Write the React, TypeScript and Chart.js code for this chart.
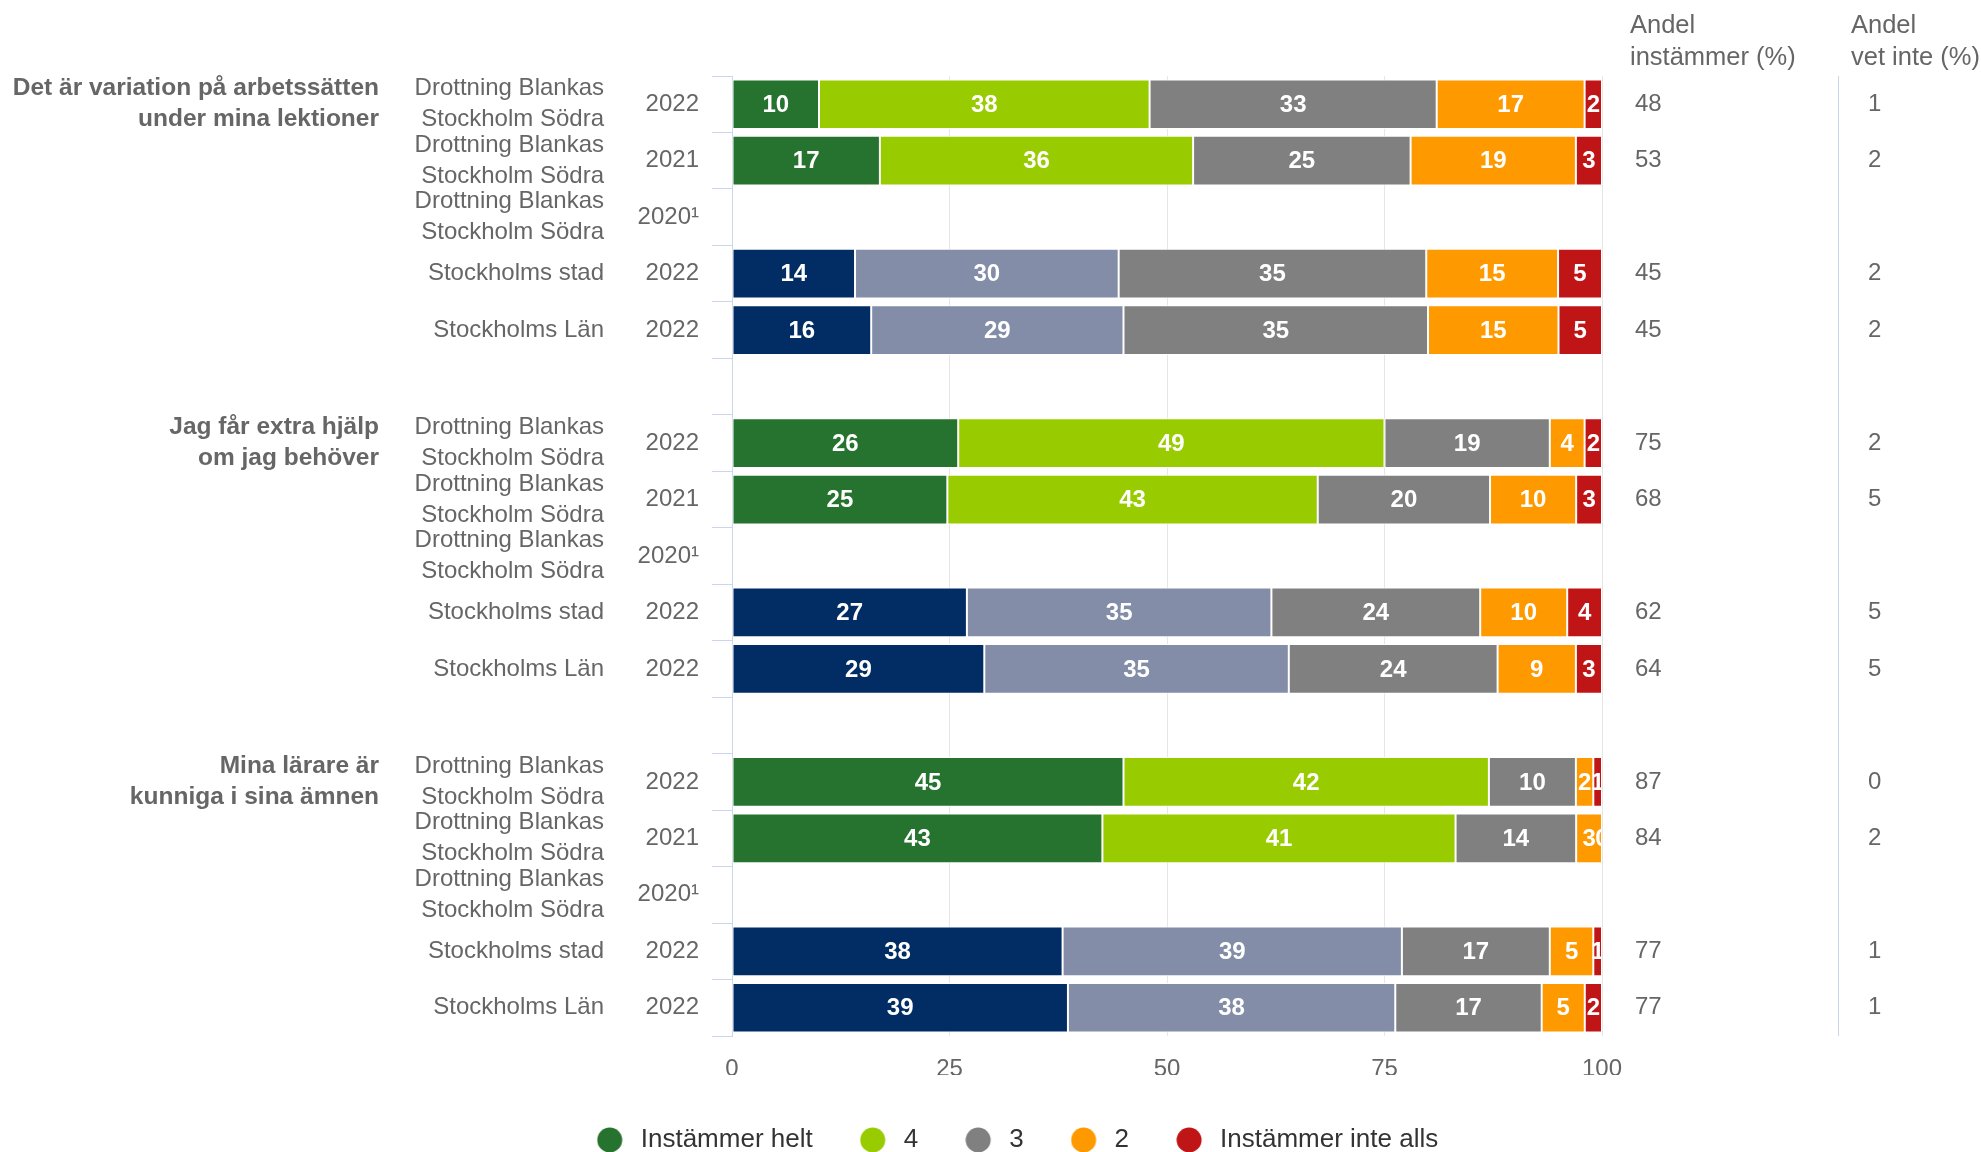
import React, { useEffect, useRef } from "react";
import { Chart, registerables } from "chart.js";

Chart.register(...registerables);

const FONT = '"Liberation Sans", Arial, Helvetica, sans-serif';

// ---------- data ----------
const groupTitles: string[][] = [
  ["Det är variation på arbetssätten", "under mina lektioner"],
  ["Jag får extra hjälp", "om jag behöver"],
  ["Mina lärare är", "kunniga i sina ämnen"],
];
const groupStartRows = [0, 6, 12];

const DB = ["Drottning Blankas", "Stockholm Södra"];
const rowNames: string[][] = [
  DB, DB, DB, ["Stockholms stad"], ["Stockholms Län"], [],
  DB, DB, DB, ["Stockholms stad"], ["Stockholms Län"], [],
  DB, DB, DB, ["Stockholms stad"], ["Stockholms Län"],
];
const rowYears = [
  "2022", "2021", "2020¹", "2022", "2022", "",
  "2022", "2021", "2020¹", "2022", "2022", "",
  "2022", "2021", "2020¹", "2022", "2022",
];
const rowKinds = [
  "school", "school", "school", "region", "region", "",
  "school", "school", "school", "region", "region", "",
  "school", "school", "school", "region", "region",
];

const seriesNames = ["Instämmer helt", "4", "3", "2", "Instämmer inte alls"];
const instammerHelt = [10, 17, null, 14, 16, null, 26, 25, null, 27, 29, null, 45, 43, null, 38, 39];
const fyra = [38, 36, null, 30, 29, null, 49, 43, null, 35, 35, null, 42, 41, null, 39, 38];
const tre = [33, 25, null, 35, 35, null, 19, 20, null, 24, 24, null, 10, 14, null, 17, 17];
const tva = [17, 19, null, 15, 15, null, 4, 10, null, 10, 9, null, 2, 3, null, 5, 5];
const instammerInteAlls = [2, 3, null, 5, 5, null, 2, 3, null, 4, 3, null, 1, 0, null, 1, 2];

const andelInstammer = [48, 53, null, 45, 45, null, 75, 68, null, 62, 64, null, 87, 84, null, 77, 77];
const andelVetInte = [1, 2, null, 2, 2, null, 2, 5, null, 5, 5, null, 0, 2, null, 1, 1];

const xTickValues = [0, 25, 50, 75, 100];

const schoolColors = ["#26732f", "#99cc00", "#808080", "#ff9900", "#c01516"];
const regionColors = ["#022c64", "#838da8", "#808080", "#ff9900", "#c01516"];

const seriesValues: (number | null)[][] = [instammerHelt, fyra, tre, tva, instammerInteAlls];

// legend marker: circle drawn on a small canvas (left-weighted so text sits a bit further away)
function makeDot(color: string): HTMLCanvasElement {
  const c = document.createElement("canvas");
  c.width = 36;
  c.height = 26;
  const g = c.getContext("2d")!;
  g.fillStyle = color;
  g.beginPath();
  g.arc(13, 13, 12.5, 0, Math.PI * 2);
  g.fill();
  return c;
}

// ---------- plugin for side texts and bar labels ----------
const sideTextPlugin = {
  id: "sideTexts",
  afterDraw(chart: any) {
    const { ctx, chartArea } = chart;
    const yScale = chart.scales.y;
    ctx.save();

    // bar value labels
    ctx.save();
    ctx.beginPath();
    ctx.rect(chartArea.left, chartArea.top, chartArea.right - chartArea.left, chartArea.bottom - chartArea.top);
    ctx.clip();
    ctx.font = `bold 24px ${FONT}`;
    ctx.fillStyle = "#ffffff";
    ctx.textAlign = "center";
    ctx.textBaseline = "middle";
    chart.data.datasets.forEach((_ds: any, di: number) => {
      const meta = chart.getDatasetMeta(di);
      meta.data.forEach((el: any, i: number) => {
        const raw = seriesValues[di][i];
        if (raw === null || raw === undefined) return;
        const p = el.getProps(["x", "base", "y"], true);
        ctx.fillText(String(raw), (p.x + p.base) / 2, p.y + 1);
      });
    });
    ctx.restore();

    // left labels
    ctx.fillStyle = "#666666";
    ctx.textBaseline = "middle";
    ctx.textAlign = "right";
    const half = 15.5;
    rowNames.forEach((lines, i) => {
      const yc = yScale.getPixelForValue(i);
      ctx.font = `24px ${FONT}`;
      if (lines.length === 2) {
        ctx.fillText(lines[0], 604, yc - half);
        ctx.fillText(lines[1], 604, yc + half);
      } else if (lines.length === 1) {
        ctx.fillText(lines[0], 604, yc);
      }
      if (rowYears[i]) ctx.fillText(rowYears[i], 699, yc);
    });
    ctx.font = `bold 24.5px ${FONT}`;
    groupTitles.forEach((lines, g) => {
      const yc = yScale.getPixelForValue(groupStartRows[g]);
      ctx.fillText(lines[0], 379, yc - half);
      ctx.fillText(lines[1], 379, yc + half);
    });

    // right columns
    ctx.textAlign = "left";
    ctx.font = `24px ${FONT}`;
    andelInstammer.forEach((v, i) => {
      if (v === null) return;
      const yc = yScale.getPixelForValue(i);
      ctx.fillText(String(v), 1635, yc);
    });
    andelVetInte.forEach((v, i) => {
      if (v === null) return;
      const yc = yScale.getPixelForValue(i);
      ctx.fillText(String(v), 1868, yc);
    });

    ctx.textBaseline = "alphabetic";
    ctx.font = `25.5px ${FONT}`;
    ctx.fillText("Andel", 1630, 33);
    ctx.fillText("instämmer (%)", 1630, 65);
    ctx.fillText("Andel", 1851, 33);
    ctx.fillText("vet inte (%)", 1851, 65);

    // separator
    ctx.strokeStyle = "#ccd6eb";
    ctx.lineWidth = 1;
    ctx.beginPath();
    ctx.moveTo(1838.5, chartArea.top);
    ctx.lineTo(1838.5, chartArea.bottom);
    ctx.stroke();

    ctx.restore();
  },
};

export default function App() {
  const canvasRef = useRef<HTMLCanvasElement | null>(null);

  useEffect(() => {
    if (!canvasRef.current) return;
    const totals = rowYears.map((_, r) =>
      seriesValues.reduce((s, arr) => s + (arr[r] ?? 0), 0)
    );
    const datasets = seriesValues.map((arr, si) => ({
      label: seriesNames[si],
      data: arr.map((v, r) => (v === null ? null : (v / totals[r]) * 100)),
      backgroundColor: rowKinds.map((k) => (k === "region" ? regionColors[si] : schoolColors[si])),
      borderColor: "#ffffff",
      borderWidth: 1,
      borderSkipped: false,
      categoryPercentage: 0.88,
      barPercentage: 1,
    }));
    const dots = schoolColors.map((c) => makeDot(c));

    const chart = new Chart(canvasRef.current, {
      type: "bar",
      data: { labels: rowYears, datasets: datasets as any },
      options: {
        indexAxis: "y",
        responsive: false,
        animation: false,
        devicePixelRatio: 1,
        layout: { padding: { left: 438, right: 379, top: 76, bottom: 2 } },
        scales: {
          x: {
            type: "linear",
            stacked: true,
            min: 0,
            max: 100,
            afterBuildTicks: (s: any) => {
              s.ticks = xTickValues.map((v) => ({ value: v }));
            },
            afterFit: (s: any) => {
              s.height = 39;
            },
            ticks: {
              font: { family: FONT, size: 24 },
              color: "#666666",
              padding: 19,
            },
            grid: { color: "#e6e6e6", lineWidth: 1, drawTicks: false },
            border: { display: false },
          },
          y: {
            type: "category",
            stacked: true,
            afterFit: (s: any) => {
              s.width = 294;
            },
            ticks: { display: false },
            grid: {
              offset: true,
              drawOnChartArea: false,
              drawTicks: true,
              tickLength: 20,
              color: "#ccd6eb",
              lineWidth: 1,
            },
            border: { display: true, color: "#ccd6eb", width: 1 },
          },
        },
        plugins: {
          tooltip: { enabled: false },
          legend: {
            display: true,
            position: "bottom",
            align: "center",
            labels: {
              usePointStyle: true,
              boxWidth: 26,
              boxHeight: 26,
              padding: 52,
              color: "#333333",
              font: { family: FONT, size: 26, lineHeight: 1 },
              generateLabels: (ch: any) =>
                ch.data.datasets.map((ds: any, i: number) => ({
                  text: ds.label,
                  fillStyle: schoolColors[i],
                  strokeStyle: schoolColors[i],
                  lineWidth: 0,
                  pointStyle: dots[i],
                  hidden: false,
                  datasetIndex: i,
                  fontColor: "#333333",
                })),
            },
          },
        },
      } as any,
      plugins: [sideTextPlugin],
    });
    return () => chart.destroy();
  }, []);

  return (
    <div
      style={{
        position: "absolute",
        left: 0,
        top: 0,
        width: 1981,
        height: 1152,
        overflow: "hidden",
        background: "#ffffff",
      }}
    >
      <canvas
        ref={canvasRef}
        width={1981}
        height={1165}
        style={{ display: "block", width: 1981, height: 1165 }}
      />
    </div>
  );
}
